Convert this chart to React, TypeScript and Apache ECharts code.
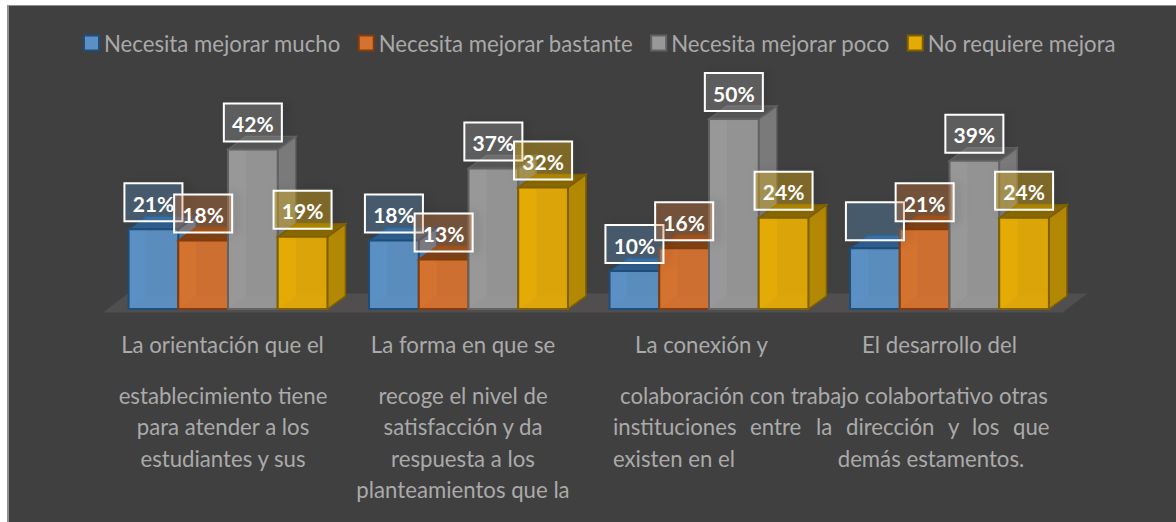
import React, { useEffect, useRef } from "react";
import * as echarts from "echarts";

const categories = [
  "La orientación que el",
  "La forma en que se",
  "La conexión y",
  "El desarrollo del",
];
const seriesNames = [
  "Necesita mejorar mucho",
  "Necesita mejorar bastante",
  "Necesita mejorar poco",
  "No requiere mejora",
];
const mucho = [21, 18, 10, 16];
const bastante = [18, 13, 16, 21];
const poco = [42, 37, 50, 39];
const noRequiere = [19, 32, 24, 24];
const muchoLabels = ["21%", "18%", "10%", ""];
const bastanteLabels = ["18%", "13%", "16%", "21%"];
const pocoLabels = ["42%", "37%", "50%", "39%"];
const noRequiereLabels = ["19%", "32%", "24%", "24%"];

const extraLines: [string, number, number, string][] = [
  ["establecimiento tiene", 223, 395, "center"],
  ["para atender a los", 223, 426, "center"],
  ["estudiantes y sus", 223, 458, "center"],
  ["recoge el nivel de", 463, 395, "center"],
  ["satisfacción y da", 463, 426, "center"],
  ["respuesta a los", 463, 458, "center"],
  ["planteamientos que la", 463, 489, "center"],
  ["colaboración con trabajo colabortativo otras", 834, 395, "center"],
  ["existen en el", 613, 458, "left"],
  ["demás estamentos.", 931, 458, "center"],
];
const justifiedWords: [string, number][] = [
  ["instituciones", 613],
  ["entre", 750],
  ["la", 816],
  ["dirección", 846],
  ["y", 948],
  ["los", 972],
  ["que", 1013],
];

const palette = [
  { front: "#5b90c6", side: "#4a7aa8", top: "#2f5f8f", edge: "#1f4e79", tint: "rgba(91,155,213,0.28)" },
  { front: "#d4722f", side: "#a85a22", top: "#7f4216", edge: "#843c0c", tint: "rgba(237,125,49,0.28)" },
  { front: "#989898", side: "#7a7a7a", top: "#575757", edge: "#626262", tint: "rgba(165,165,165,0.28)" },
  { front: "#e4ab06", side: "#b28804", top: "#8a6a02", edge: "#7f6000", tint: "rgba(255,192,0,0.30)" },
];
const FONT = "Lato, Carlito, sans-serif";
const TEXT_SIZE = 22.2;
const DX = 18;
const DY = 13;
const BAR_RATIO = 0.2067;

function barGeom(api: any, sIdx: number) {
  const cat = api.value(0);
  const val = api.value(1);
  const [cx, y0] = api.coord([cat, 0]);
  const [, y1] = api.coord([cat, val]);
  const band = api.size([1, 0])[0];
  const w = band * BAR_RATIO;
  const x0 = cx - 2 * w + sIdx * w;
  return { x0, x1: x0 + w, y0, y1 };
}

function boxRenderer(sIdx: number) {
  const c = palette[sIdx];
  return (_p: any, api: any) => {
    const { x0, x1, y0, y1 } = barGeom(api, sIdx);
    const poly = (points: number[][], style: any) => ({
      type: "polygon",
      shape: { points },
      style,
    });
    return {
      type: "group",
      children: [
        poly([[x0, y0], [x0 + DX, y0 - DY], [x0 + DX, y1 - DY], [x0, y1]], { fill: c.front, opacity: 0.95 }),
        poly([[x0, y0], [x1, y0], [x1 + DX, y0 - DY], [x0 + DX, y0 - DY]], { fill: "#ffffff", opacity: 0.1 }),
        poly([[x1, y0], [x1 + DX, y0 - DY], [x1 + DX, y1 - DY], [x1, y1]], {
          fill: c.side, stroke: c.edge, lineWidth: 1.5,
        }),
        poly([[x0, y1], [x1, y1], [x1 + DX, y1 - DY], [x0 + DX, y1 - DY]], {
          fill: c.top, stroke: c.edge, lineWidth: 1.5,
        }),
        poly([[x0, y0], [x1, y0], [x1, y1], [x0, y1]], {
          fill: c.front, opacity: 0.94,
        }),
        poly([[x0, y0], [x1, y0], [x1, y1], [x0, y1]], {
          fill: "none", stroke: c.edge, lineWidth: 2,
        }),
      ],
    };
  };
}

function labelRenderer(sIdx: number, labels: string[]) {
  const c = palette[sIdx];
  return (p: any, api: any) => {
    const { x0, x1, y1 } = barGeom(api, sIdx);
    const cx = (x0 + x1) / 2;
    const W = 58;
    const H = 38;
    const bottom = y1 - 8;
    return {
      type: "group",
      children: [
        {
          type: "rect",
          shape: { x: cx - W / 2, y: bottom - H, width: W, height: H },
          style: {
            fill: c.tint,
            stroke: "#ffffff",
            lineWidth: 2,
            shadowBlur: 10,
            shadowOffsetX: 5,
            shadowColor: "rgba(0,0,0,0.18)",
          },
        },
        {
          type: "text",
          style: {
            text: labels[p.dataIndex],
            x: cx,
            y: bottom - H / 2 + 1,
            align: "center",
            verticalAlign: "middle",
            fill: "#ffffff",
            font: `bold 21px ${FONT}`,
          },
        },
      ],
    };
  };
}

function floorRenderer(_p: any, api: any) {
  const band = api.size([1, 0])[0];
  const [cxA, y0] = api.coord([0, 0]);
  const [cxB] = api.coord([3, 0]);
  const half = band * 0.52;
  const yFront = y0 + 3.5;
  const yBack = y0 - 15.5;
  const pts = [
    [cxA - half, yFront],
    [cxA - half + 25, yBack],
    [cxB + half + 13, yBack],
    [cxB + half - 12, yFront],
  ];
  return { type: "polygon", shape: { points: pts }, style: { fill: "#504e4e" } };
}

const allValues = [mucho, bastante, poco, noRequiere];
const allLabels = [muchoLabels, bastanteLabels, pocoLabels, noRequiereLabels];
const labelOffsets = [11, 11, 15, 20];

export default function App() {
  const ref = useRef<HTMLDivElement>(null);

  useEffect(() => {
    const chart = echarts.init(ref.current!, null, { renderer: "svg" });
    const toData = (vals: number[]) => vals.map((v, i) => [i, v]);
    const textStyle = { fill: "#aaaaaa", font: `${TEXT_SIZE}px ${FONT}`, verticalAlign: "middle" };
    const rich: any = {};
    labelOffsets.forEach((o, i) => {
      rich[`c${i}`] = {
        color: "#aaaaaa",
        fontSize: TEXT_SIZE,
        fontFamily: FONT,
        padding: [0, o, 0, 0],
      };
    });
    chart.setOption({
      animation: false,
      backgroundColor: "transparent",
      grid: { left: 107.75, right: 106.25, top: 119, bottom: 213 },
      legend: {
        data: seriesNames,
        left: 78,
        top: 27,
        icon: "rect",
        itemWidth: 15,
        itemHeight: 15,
        itemGap: 17,
        textStyle: { color: "#a9a9a9", fontSize: TEXT_SIZE, fontFamily: FONT },
      },
      xAxis: {
        type: "category",
        data: categories,
        axisLine: { show: false },
        axisTick: { show: false },
        axisLabel: {
          interval: 0,
          margin: 24,
          formatter: (v: string, i: number) => `{c${i}|${v}}`,
          rich,
        },
      },
      yAxis: { type: "value", min: 0, max: 50, interval: 10, show: false },
      graphic: [
        ...extraLines.map(([text, x, y, align]) => ({
          type: "text",
          x,
          y,
          style: { ...textStyle, text, align },
        })),
        ...justifiedWords.map(([text, x]) => ({
          type: "text",
          x,
          y: 426,
          style: { ...textStyle, text, align: "left" },
        })),
      ],
      series: [
        {
          type: "custom",
          name: "floor",
          silent: true,
          z: 1,
          data: [[0, 0]],
          renderItem: floorRenderer,
        },
        ...seriesNames.map((name, s) => ({
          type: "custom",
          name,
          z: 2 + s,
          itemStyle: { color: palette[s].front, borderColor: palette[s].edge, borderWidth: 2 },
          encode: { x: 0, y: 1 },
          data: toData(allValues[s]),
          renderItem: boxRenderer(s),
        })),
        ...seriesNames.map((name, s) => ({
          type: "custom",
          name: `${name} etiqueta`,
          z: 10 + s,
          encode: { x: 0, y: 1 },
          data: toData(allValues[s]),
          renderItem: labelRenderer(s, allLabels[s]),
        })),
      ],
    });
    return () => chart.dispose();
  }, []);

  return (
    <div style={{ position: "absolute", left: 0, top: 0, width: 1176, height: 522, overflow: "hidden", background: "#ffffff" }}>
      <div
        style={{
          position: "absolute",
          left: 7,
          top: 5,
          right: 0,
          bottom: 0,
          background: "#404040",
          borderLeft: "2px solid #8f8f8f",
          borderTop: "1.5px solid #8f8f8f",
        }}
      />
      <div ref={ref} style={{ position: "absolute", left: 0, top: 0, width: 1176, height: 522 }} />
    </div>
  );
}
